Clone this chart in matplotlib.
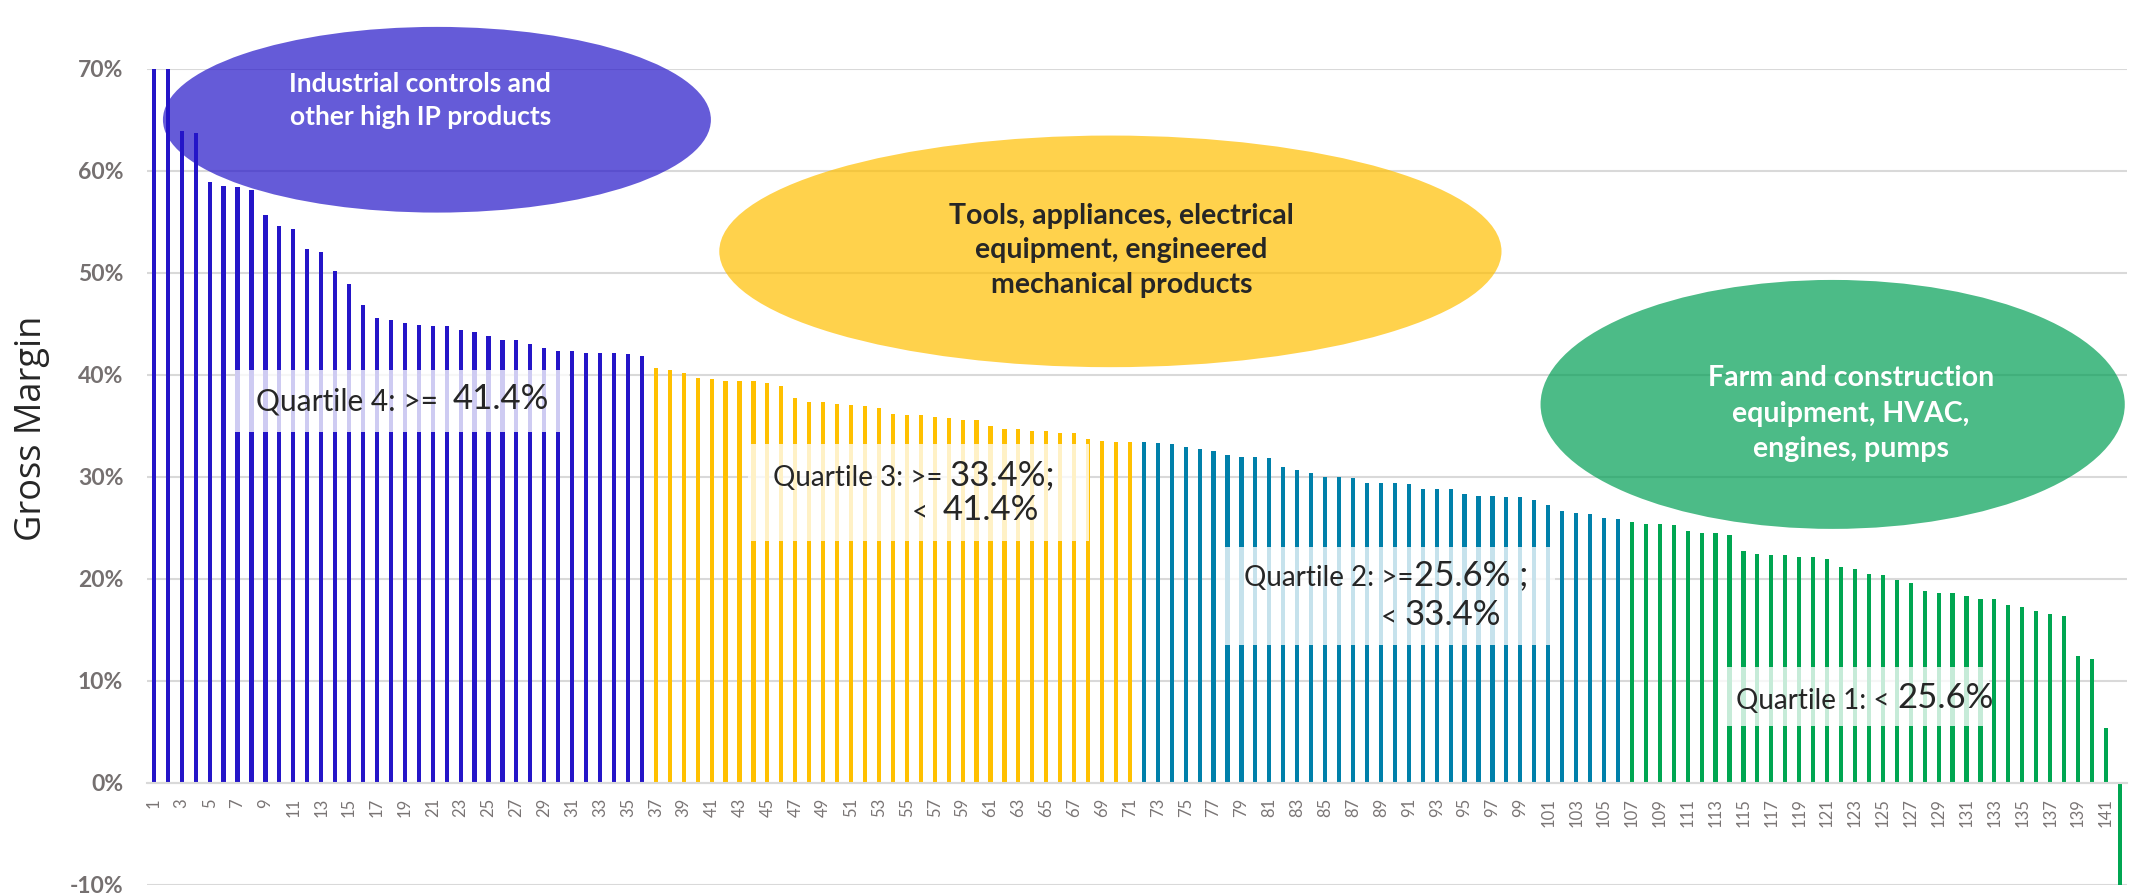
import matplotlib.pyplot as plt
from matplotlib.patches import Ellipse, Rectangle
from matplotlib.ticker import FuncFormatter

plt.rcParams['font.family'] = ['Lato', 'DejaVu Sans']

# gross margin (%) per company, sorted, split by quartile
q4_margin = [72.0, 70.8, 63.9, 63.7, 58.9, 58.5, 58.4, 58.1, 55.7, 54.6,
             54.3, 52.3, 52.0, 50.2, 48.9, 46.8, 45.6, 45.4, 45.1, 44.9,
             44.8, 44.8, 44.4, 44.2, 43.8, 43.4, 43.4, 43.0, 42.6, 42.3,
             42.3, 42.1, 42.1, 42.1, 42.0, 41.8]
q3_margin = [40.7, 40.5, 40.2, 39.7, 39.6, 39.4, 39.4, 39.4, 39.2, 38.9,
             37.7, 37.3, 37.3, 37.1, 37.0, 36.9, 36.7, 36.2, 36.1, 36.1,
             35.9, 35.75, 35.6, 35.6, 35.0, 34.7, 34.7, 34.5, 34.5, 34.3,
             34.3, 33.7, 33.5, 33.4, 33.4]
q2_margin = [33.4, 33.3, 33.2, 32.9, 32.7, 32.55, 32.1, 31.9, 31.9, 31.8,
             31.0, 30.7, 30.4, 30.0, 30.0, 29.9, 29.4, 29.4, 29.4, 29.3,
             28.8, 28.8, 28.8, 28.3, 28.1, 28.1, 28.0, 28.0, 27.7, 27.2,
             26.7, 26.5, 26.4, 26.0, 25.85]
q1_margin = [25.55, 25.4, 25.4, 25.25, 24.65, 24.5, 24.5, 24.3, 22.7, 22.45,
             22.3, 22.3, 22.1, 22.1, 21.95, 21.2, 21.0, 20.5, 20.4, 19.9,
             19.6, 18.8, 18.6, 18.6, 18.3, 18.0, 18.0, 17.4, 17.2, 16.9,
             16.6, 16.4, 12.45, 12.1, 5.4, -10.5]

groups = [q4_margin, q3_margin, q2_margin, q1_margin]
colors = ['#2415C8', '#FFC000', '#0080AA', '#00A651']
y_ticks = [-10, 0, 10, 20, 30, 40, 50, 60, 70]

fig = plt.figure(figsize=(21.29, 8.96), dpi=100)
ax = fig.add_axes([0.069, 0.0123, 0.930, 0.911])

start = 1
for vals, c in zip(groups, colors):
    xs = list(range(start, start + len(vals)))
    ax.bar(xs, vals, width=0.3, color=c, zorder=2)
    start += len(vals)
n = start - 1

ax.set_xlim(0.5, n + 0.5)
ax.set_ylim(-10, 70)
ax.set_yticks(y_ticks)
ax.yaxis.set_major_formatter(FuncFormatter(lambda v, p: f"{v:.0f}%"))
ax.yaxis.grid(True, color='#D9D9D9', lw=1.5)
ax.set_axisbelow(True)
for s in ['top', 'right', 'left']:
    ax.spines[s].set_visible(False)
ax.spines['bottom'].set_position(('data', 0))
ax.spines['bottom'].set_color('#D9D9D9')
ax.spines['bottom'].set_linewidth(1.5)

ax.set_xticks(range(1, n + 1, 2))
ax.set_xticklabels([str(i) for i in range(1, n + 1, 2)], rotation=90,
                   fontsize=12, color='#7A7575')
ax.tick_params(axis='x', length=0, pad=11)
ax.tick_params(axis='y', length=0, pad=17, labelsize=16.5, labelcolor='#757070')
for lb in ax.get_yticklabels():
    lb.set_fontweight('bold')

ax.set_ylabel('Gross Margin', fontsize=26, color='#262626',
              family=['Open Sans', 'DejaVu Sans'])
ax.yaxis.set_label_coords(-0.049, 0.56)

# category ellipses
ellipses = [
    ((21.3, 65.0), 39.3, 18.2, '#2415C8', (20.1, 66.9),
     'Industrial controls and\nother high IP products', 'white', 19, 1.45),
    ((69.6, 52.1), 56.1, 22.7, '#FFBF00', (70.4, 52.2),
     'Tools, appliances, electrical\nequipment, engineered\nmechanical products', '#262626', 20.5, 1.42),
    ((121.4, 37.1), 41.9, 24.4, '#009E54', (122.7, 36.2),
     'Farm and construction\nequipment, HVAC,\nengines, pumps', 'white', 20.5, 1.44),
]
for ctr, w, h, fc, tpos, txt, tc, fs, ls in ellipses:
    ax.add_patch(Ellipse(ctr, w, h, facecolor=fc, edgecolor='none',
                         alpha=0.7, zorder=3, clip_on=False))
    ax.text(tpos[0], tpos[1], txt, ha='center', va='center', color=tc,
            fontsize=fs, fontweight='bold', zorder=5, linespacing=ls)

# quartile boxes
boxes = [(6.8, 34.4, 24.0, 6.1), (43.6, 23.7, 24.5, 9.5),
         (77.2, 13.5, 24.3, 9.6), (113.2, 5.6, 19.4, 5.8)]
for bx, by, bw, bh in boxes:
    ax.add_patch(Rectangle((bx, by), bw, bh, facecolor='white',
                           edgecolor='none', alpha=0.78, zorder=4))


def quartile_text(x, y, small, big, small_size=20):
    t = ax.text(x, y, small, fontsize=small_size, color='#262626', ha='left',
                va='center', zorder=6)
    ax.annotate(big, xy=(1, 0), xycoords=t, fontsize=25, color='#262626',
                ha='left', va='bottom', zorder=6)


quartile_text(8.3, 37.4, 'Quartile 4: >=  ', '41.4%', 21.5)
quartile_text(45.4, 29.9, 'Quartile 3: >= ', '33.4%;')
quartile_text(55.4, 26.5, '<  ', '41.4%')
quartile_text(79.2, 20.1, 'Quartile 2: >=', '25.6% ;')
quartile_text(89.0, 16.2, '< ', '33.4%')
quartile_text(114.5, 8.0, 'Quartile 1: < ', '25.6%')

fig.savefig('out.png', dpi=100)
